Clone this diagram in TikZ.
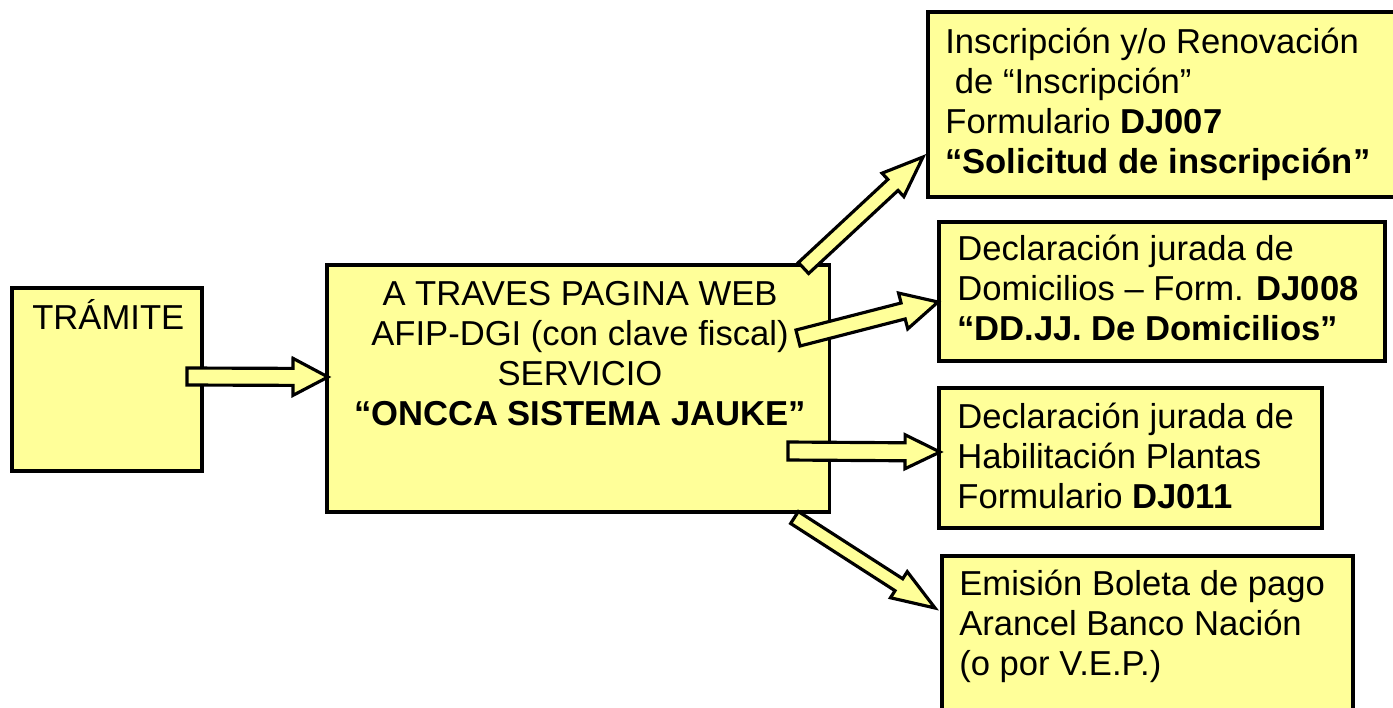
\documentclass[tikz,border=0pt]{standalone}
\usepackage{fontspec}
\setmainfont{Liberation Sans}
\usetikzlibrary{calc}
\definecolor{boxyellow}{HTML}{FFFF99}
\tikzset{
  box/.style={draw=black, line width=1.8pt, fill=boxyellow, anchor=north west, inner sep=0pt, outer sep=0pt},
  txt/.style={anchor=base west, inner sep=0pt, align=left, font=\fontsize{19.7}{22.7}\selectfont},
  ctxt/.style={anchor=base, inner sep=0pt, align=center, font=\fontsize{19.7}{22.7}\selectfont},
  blockarr/.style={draw=black, line width=1.8pt, fill=boxyellow, line join=miter}
}
% #1 tail, #2 tip, #3 half shaft, #4 half head, #5 head length
\newcommand\blockarrow[5]{%
  \coordinate (hb) at ($(#2)!#5!(#1)$);
  \draw[blockarr] ($(#1)!#3!90:(#2)$) -- ($(hb)!#3!90:(#2)$) -- ($(hb)!#4!90:(#2)$) -- (#2)
    -- ($(hb)!#4!-90:(#2)$) -- ($(hb)!#3!-90:(#2)$) -- ($(#1)!#3!-90:(#2)$) -- cycle;}
\begin{document}
\begin{tikzpicture}[x=0.02cm,y=-0.02cm]
\useasboundingbox[fill=white] (0,0) rectangle (1393,707);
% boxes
\node[box, minimum width=3.8cm, minimum height=3.66cm] (tram) at (12,288) {};
\node[box, minimum width=10.06cm, minimum height=4.94cm] (web) at (327,265) {};
\node[box, minimum width=9.8cm, minimum height=3.7cm] (insc) at (928,12) {};
\node[box, minimum width=8.92cm, minimum height=2.78cm] (domi) at (939,222) {};
\node[box, minimum width=7.66cm, minimum height=2.8cm] (habi) at (939,388) {};
\node[box, minimum width=8.22cm, minimum height=3.4cm] (emis) at (942,556) {};
% texts (base anchor = baseline of the last line)
\node[txt] (ttram) at (32,329) {TRÁMITE};
\node[ctxt] (tweb) at (580,425) {A TRAVES PAGINA WEB\\ AFIP-DGI (con clave fiscal)\\SERVICIO\\ \textbf{“ONCCA SISTEMA JAUKE”}};
\node[txt] (tinsc) at (945,173) {Inscripción y/o Renovación\\ \ de “Inscripción”\\Formulario \textbf{DJ007}\\\textbf{“Solicitud de inscripción”}};
\node[txt] (tdomi) at (957,340) {Declaración jurada de\\Domicilios – Form. \textbf{DJ008}\\\textbf{“DD.JJ. De Domicilios”}};
\node[txt] (thabi) at (957,508) {Declaración jurada de\\Habilitación Plantas\\Formulario \textbf{DJ011}};
\node[txt] (temis) at (959,675) {Emisión Boleta de pago\\Arancel Banco Nación\\(o por V.E.P.)};
% arrow end points
\coordinate (a0s) at (187,376.5); \coordinate (a0e) at (328,377);
\coordinate (a1s) at (803.5,268); \coordinate (a1e) at (923,157);
\coordinate (a2s) at (798,338);   \coordinate (a2e) at (938,302);
\coordinate (a3s) at (788,451);   \coordinate (a3e) at (940,452);
\coordinate (a4s) at (794.5,517.5); \coordinate (a4e) at (935,608);
\blockarrow{a0s}{a0e}{0.17cm}{0.37cm}{0.70cm}
\blockarrow{a1s}{a1e}{0.15cm}{0.32cm}{0.82cm}
\blockarrow{a2s}{a2e}{0.165cm}{0.37cm}{0.72cm}
\blockarrow{a3s}{a3e}{0.18cm}{0.34cm}{0.70cm}
\blockarrow{a4s}{a4e}{0.142cm}{0.31cm}{0.86cm}
\end{tikzpicture}
\end{document}
